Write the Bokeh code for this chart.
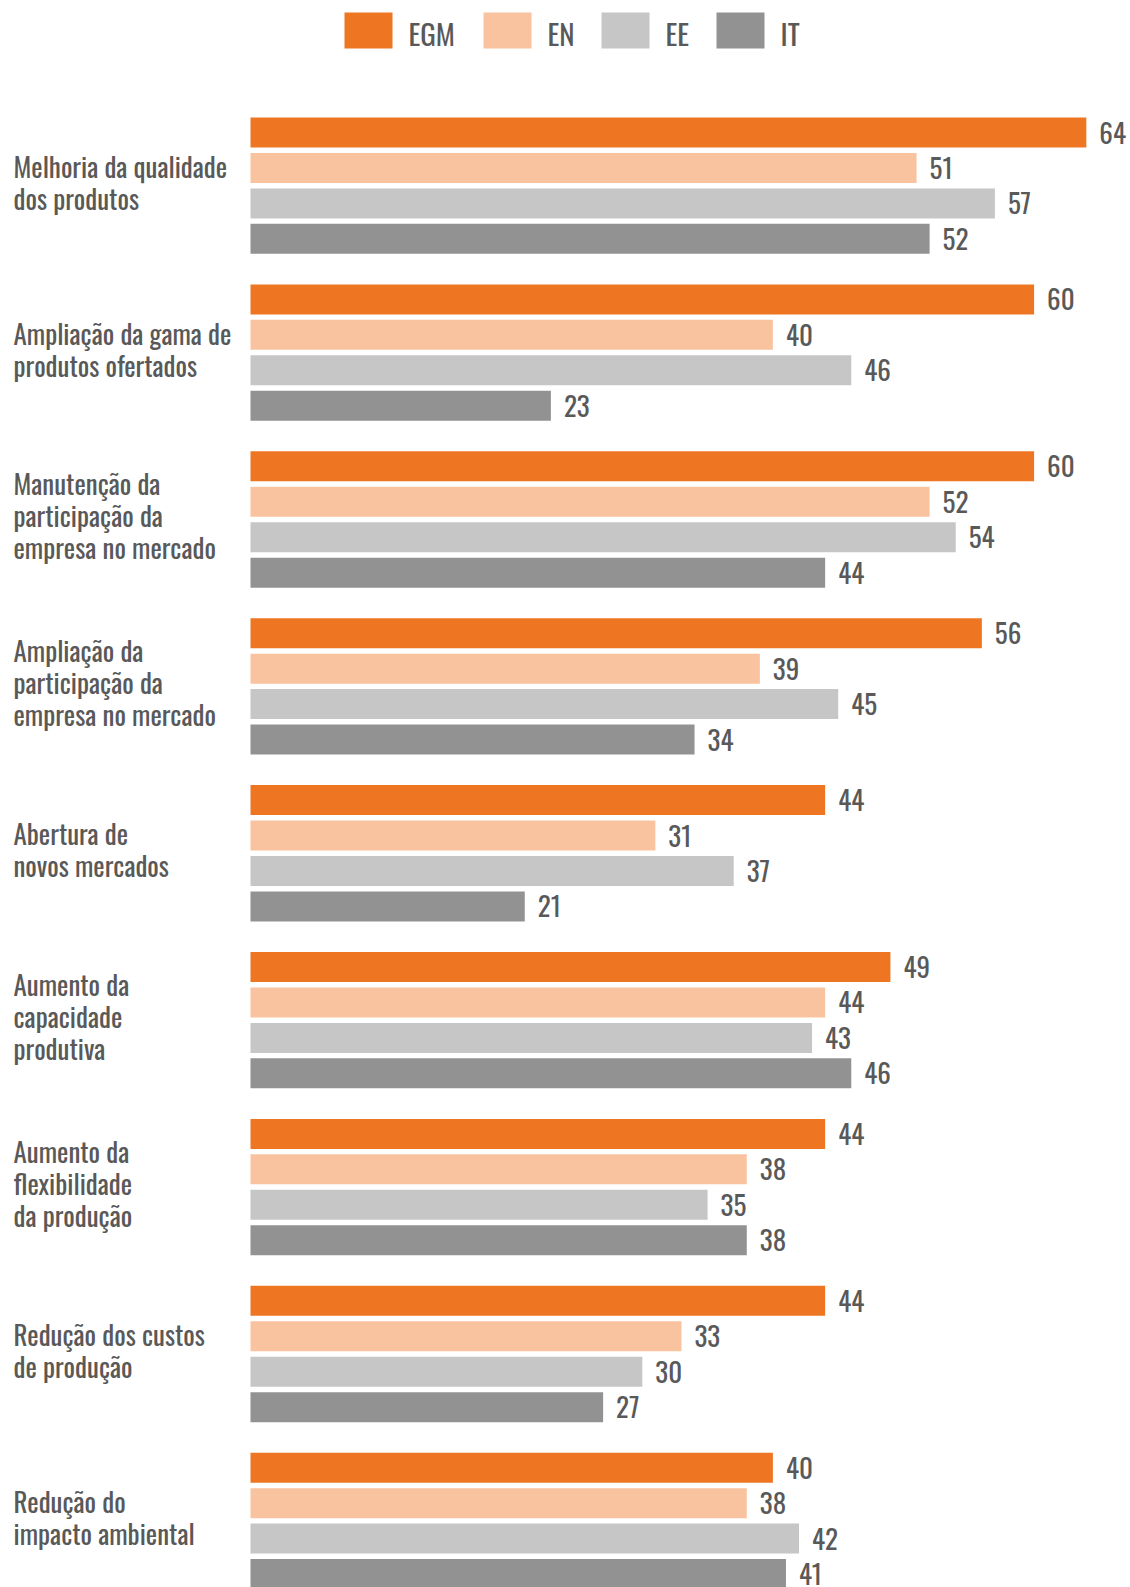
from bokeh.plotting import figure
from bokeh.models import Range1d, ColumnDataSource
from bokeh.embed import file_html
from bokeh.resources import INLINE
from bokeh.core.properties import value

# ---------------- data ----------------
categories = [
    "Melhoria da qualidade\ndos produtos",
    "Ampliação da gama de\nprodutos ofertados",
    "Manutenção da\nparticipação da\nempresa no mercado",
    "Ampliação da\nparticipação da\nempresa no mercado",
    "Abertura de\nnovos mercados",
    "Aumento da\ncapacidade\nprodutiva",
    "Aumento da\nflexibilidade\nda produção",
    "Redução dos custos\nde produção",
    "Redução do\nimpacto ambiental",
]
series_names = ["EGM", "EN", "EE", "IT"]
egm = [64, 60, 60, 56, 44, 49, 44, 44, 40]
en = [51, 40, 52, 39, 31, 44, 38, 33, 38]
ee = [57, 46, 54, 45, 37, 43, 35, 30, 42]
it = [52, 23, 44, 34, 21, 46, 38, 27, 41]
series_values = [egm, en, ee, it]

# ---------------- style / layout ----------------
colors = ["#EE7623", "#FAC3A0", "#C6C6C6", "#929292"]
TEXT_COLOR = "#595959"
FONT = "'Oswald Light', 'Oswald', 'Roboto Condensed', sans-serif"

W, H = 1130, 1587
SCALE = 13.06          # px per unit
BAR_X0 = 250           # px where value 0 sits
GROUP_TOP = 117
GROUP_PITCH = 166.9
BAR_PITCH = 35.45
BAR_H = 30
LABEL_DY = -4
LEGEND_LEFT = [344, 483, 601, 716]
LEGEND_CY = 30

p = figure(width=W, height=H,
           x_range=Range1d(-BAR_X0 / SCALE, (W - BAR_X0) / SCALE),
           y_range=Range1d(H, 0),
           output_backend="svg", toolbar_location=None,
           x_axis_location=None, y_axis_location=None,
           min_border=0, outline_line_color=None,
           background_fill_color="white", border_fill_color="white")
p.grid.visible = False

for s, (name, vals, col) in enumerate(zip(series_names, series_values, colors)):
    ys = [GROUP_TOP + g * GROUP_PITCH + s * BAR_PITCH + BAR_H / 2 for g in range(len(vals))]
    src = ColumnDataSource(dict(y=ys, v=vals, t=[str(v) for v in vals]))
    p.hbar(y="y", left=0, right="v", height=BAR_H, source=src,
           fill_color=col, line_color=None)
    p.text(x="v", y="y", text="t", source=src, x_offset=13,
           text_baseline="middle", text_align="left",
           text_font=value(FONT), text_font_size="27px", text_color=TEXT_COLOR)

# category labels
cy = [GROUP_TOP + g * GROUP_PITCH + (3 * BAR_PITCH + BAR_H) / 2 + LABEL_DY
      for g in range(len(categories))]
p.text(x=[-BAR_X0 / SCALE] * len(categories), y=cy, text=categories, x_offset=13,
       text_baseline="middle", text_align="left", text_line_height=0.8,
       text_font=value(FONT), text_font_size="27px", text_color=TEXT_COLOR)

# legend
lx = [(px + 24 - BAR_X0) / SCALE for px in LEGEND_LEFT]
p.rect(x=lx, y=[LEGEND_CY] * 4, width=48, width_units="screen", height=36,
       fill_color=colors, line_color=None)
tx = [(px - BAR_X0) / SCALE for px in LEGEND_LEFT]
p.text(x=tx, y=[LEGEND_CY + 2] * 4, text=series_names, x_offset=64,
       text_baseline="middle", text_align="left",
       text_font=value(FONT), text_font_size="29px", text_color=TEXT_COLOR)

open("out.html", "w").write(file_html(p, INLINE))
